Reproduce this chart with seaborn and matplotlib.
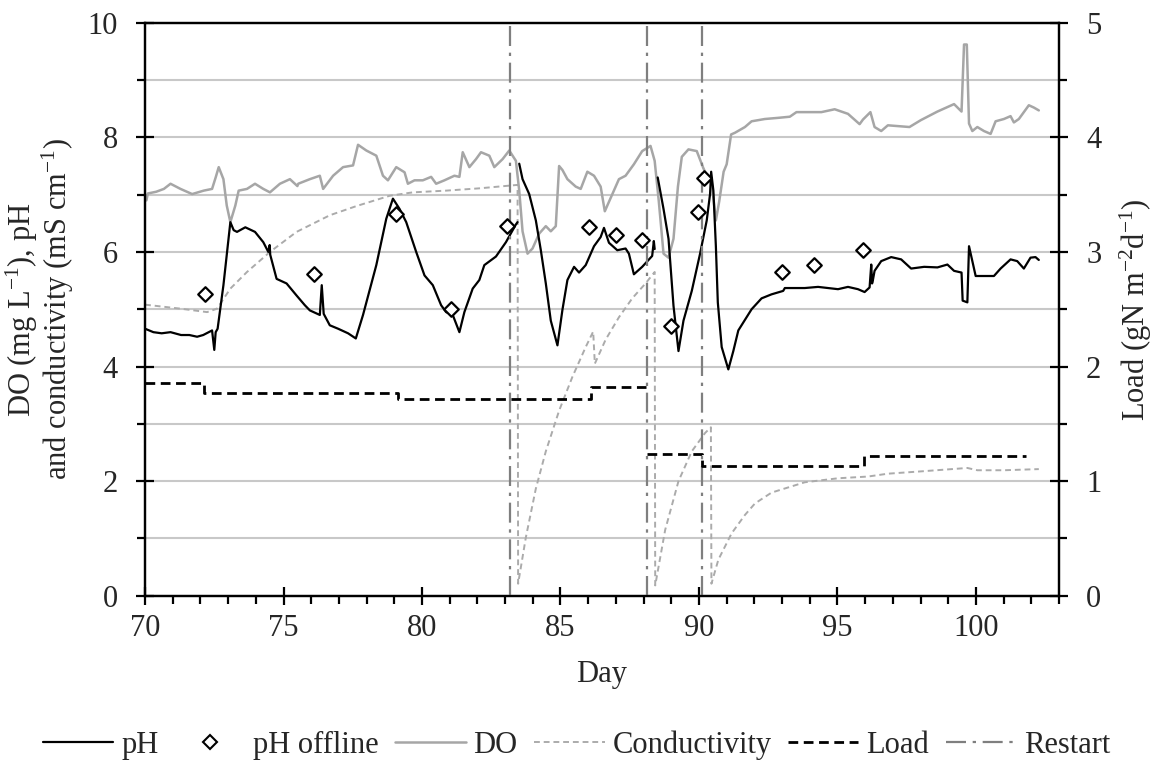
import numpy as np
import pandas as pd
import matplotlib
matplotlib.use("Agg")
import matplotlib.pyplot as plt
import seaborn as sns
from matplotlib.ticker import MultipleLocator
from matplotlib.lines import Line2D

# ---------------- data ----------------
ph_seg1_day = [70.0, 70.3, 70.6, 70.92, 71.3, 71.6, 71.88, 72.1, 72.42, 72.5, 72.55, 72.62, 72.83, 73.08,
               73.2, 73.32, 73.62, 73.97, 74.27, 74.45, 74.5, 74.52, 74.75, 75.11, 75.47, 75.77, 75.95,
               76.31, 76.38, 76.45, 76.67, 76.97, 77.33, 77.61, 77.87, 78.35, 78.71, 78.95, 79.19, 79.43,
               79.79, 80.09, 80.39, 80.69, 80.87, 81.11, 81.35, 81.53, 81.83, 82.07, 82.25, 82.67, 83.03,
               83.39, 83.45]
ph_seg1_val = [4.66, 4.60, 4.58, 4.60, 4.55, 4.55, 4.52, 4.55, 4.63, 4.29, 4.60, 4.66, 5.42, 6.52,
               6.38, 6.35, 6.43, 6.35, 6.17, 6.00, 6.12, 5.95, 5.53, 5.45, 5.24, 5.07, 4.98,
               4.90, 5.42, 4.92, 4.72, 4.66, 4.58, 4.49, 4.90, 5.77, 6.58, 6.93, 6.75, 6.52,
               6.00, 5.59, 5.42, 5.07, 4.95, 4.90, 4.60, 4.95, 5.36, 5.51, 5.77, 5.92, 6.17,
               6.48, 6.52]
ph_seg2_day = [83.51, 83.63, 83.87, 84.11, 84.29, 84.47, 84.65, 84.89, 85.07, 85.25, 85.49, 85.67, 85.91,
               86.21, 86.45, 86.57, 86.75, 87.05, 87.35, 87.47, 87.65, 87.95, 88.31, 88.37, 88.40]
ph_seg2_val = [7.54, 7.27, 7.01, 6.55, 6.03, 5.45, 4.80, 4.37, 4.99, 5.51, 5.74, 5.64, 5.77,
               6.10, 6.26, 6.42, 6.16, 6.03, 6.06, 5.97, 5.61, 5.74, 5.93, 6.19, 6.05]
ph_seg3_day = [88.51, 88.72, 88.90, 89.08, 89.26, 89.44, 89.74, 90.04, 90.28, 90.40, 90.44, 90.52, 90.61,
               90.68, 90.82, 91.06, 91.24, 91.42, 91.90, 92.26, 92.62, 93.04, 93.10, 93.82, 94.30, 95.02,
               95.38, 95.74, 95.98, 96.16, 96.22, 96.25, 96.28, 96.34, 96.58, 96.94, 97.30, 97.66, 98.13,
               98.61, 98.97, 99.21, 99.48, 99.52, 99.69, 99.75, 99.87, 99.99, 100.29, 100.65, 100.89,
               101.25, 101.49, 101.73, 101.97, 102.15, 102.27]
ph_seg3_val = [7.30, 6.75, 6.23, 5.06, 4.27, 4.80, 5.32, 5.97, 6.55, 7.01, 7.40, 7.07, 6.10,
               5.12, 4.34, 3.95, 4.27, 4.63, 5.00, 5.19, 5.26, 5.32, 5.37, 5.37, 5.39, 5.35,
               5.39, 5.35, 5.30, 5.38, 5.78, 5.45, 5.51, 5.67, 5.84, 5.91, 5.87, 5.71, 5.74,
               5.73, 5.78, 5.67, 5.64, 5.15, 5.12, 6.10, 5.84, 5.58, 5.58, 5.58, 5.71,
               5.87, 5.84, 5.71, 5.90, 5.91, 5.86]

ph_offline_day = [72.15, 76.09, 79.07, 81.03, 83.06, 86.03, 86.99, 87.95, 89.00, 89.98, 90.17, 92.98, 94.15, 95.92]
ph_offline_val = [5.27, 5.62, 6.67, 5.01, 6.45, 6.44, 6.29, 6.21, 4.70, 6.69, 7.29, 5.65, 5.78, 6.03]

do_day = [70.0, 70.05, 70.1, 70.4, 70.68, 70.92, 71.28, 71.7, 72.12, 72.42, 72.55, 72.66, 72.83, 72.95,
          73.08, 73.26, 73.38, 73.68, 73.97, 74.27, 74.51, 74.87, 75.23, 75.5, 75.53, 75.95, 76.31, 76.43,
          76.79, 77.15, 77.51, 77.69, 77.99, 78.35, 78.59, 78.77, 79.07, 79.37, 79.49, 79.73, 80.03, 80.33,
          80.51, 80.81, 81.17, 81.35, 81.47, 81.71, 81.95, 82.13, 82.43, 82.61, 82.91, 83.15, 83.39, 83.51,
          83.63, 83.81, 83.99, 84.23, 84.47, 84.65, 84.83, 84.95, 85.07, 85.25, 85.55, 85.73, 85.97, 86.21,
          86.45, 86.6, 86.81, 87.11, 87.35, 87.65, 87.95, 88.25, 88.4, 88.55, 88.72, 88.9, 89.08, 89.24,
          89.38, 89.62, 89.92, 90.16, 90.34, 90.46, 90.61, 90.73, 90.89, 91.0, 91.16, 91.3, 91.66, 91.9,
          92.38, 92.86, 93.28, 93.52, 94.42, 94.9, 95.38, 95.8, 95.92, 96.19, 96.34, 96.58, 96.82, 97.6,
          98.01, 98.61, 99.21, 99.48, 99.57, 99.67, 99.75, 99.87, 100.05, 100.29, 100.53, 100.71, 101.01,
          101.25, 101.37, 101.55, 101.91, 102.09, 102.27]
do_val = [7.00, 6.90, 7.02, 7.05, 7.10, 7.19, 7.10, 7.01, 7.07, 7.10, 7.30, 7.48, 7.27, 6.81,
          6.52, 6.81, 7.07, 7.10, 7.19, 7.10, 7.04, 7.19, 7.27, 7.15, 7.19, 7.27, 7.33, 7.10,
          7.33, 7.48, 7.51, 7.87, 7.77, 7.68, 7.33, 7.25, 7.48, 7.39, 7.19, 7.25, 7.25, 7.31,
          7.19, 7.25, 7.33, 7.31, 7.74, 7.48, 7.62, 7.74, 7.68, 7.48, 7.62, 7.77, 7.59, 7.07,
          6.36, 5.97, 6.06, 6.32, 6.45, 6.36, 6.45, 7.50, 7.43, 7.27, 7.14, 7.10, 7.40, 7.33,
          7.14, 6.71, 6.94, 7.27, 7.33, 7.53, 7.76, 7.85, 7.59, 6.88, 5.97, 5.90, 6.23, 7.14,
          7.66, 7.79, 7.76, 7.46, 7.27, 7.20, 6.55, 6.88, 7.40, 7.53, 8.05, 8.08, 8.18, 8.28,
          8.32, 8.34, 8.36, 8.44, 8.44, 8.49, 8.41, 8.23, 8.31, 8.44, 8.18, 8.11, 8.21, 8.18,
          8.30, 8.45, 8.58, 8.45, 9.62, 9.62, 8.24, 8.11, 8.18, 8.11, 8.06, 8.28, 8.32,
          8.37, 8.26, 8.32, 8.56, 8.52, 8.47]

cond_day = [70.0, 71.28, 72.24, 72.6, 73.08, 73.68, 74.51, 75.47, 76.67, 77.63, 78.83, 79.67, 80.87, 82.07,
            83.45, 83.47, 83.75, 84.11, 84.47, 84.95, 85.43, 85.91, 86.18, 86.24, 86.63, 87.11, 87.59,
            88.07, 88.40, 88.42, 88.78, 89.26, 89.74, 90.22, 90.43, 90.45, 90.70, 91.18, 91.66, 92.02,
            92.62, 93.82, 95.02, 96.10, 96.82, 98.01, 99.69, 100.05, 101.01, 102.27]
cond_val = [5.08, 5.01, 4.95, 5.01, 5.36, 5.65, 6.00, 6.35, 6.64, 6.80, 6.98, 7.04, 7.07, 7.11,
            7.17, 0.21, 1.02, 1.87, 2.52, 3.23, 3.82, 4.34, 4.61, 4.05, 4.47, 4.86, 5.19,
            5.45, 5.65, 0.18, 1.15, 2.00, 2.52, 2.84, 2.94, 0.21, 0.63, 1.09, 1.41, 1.61,
            1.80, 1.98, 2.05, 2.08, 2.13, 2.17, 2.23, 2.19, 2.19, 2.21]

load_seg1_day = [70.0, 72.12, 72.12, 79.13, 79.13, 86.09, 86.09, 88.07]
load_seg1_val = [1.86, 1.86, 1.77, 1.77, 1.72, 1.72, 1.82, 1.82]
load_seg2_day = [88.12, 90.10, 90.10, 95.95, 95.95, 101.80]
load_seg2_val = [1.24, 1.24, 1.13, 1.13, 1.22, 1.22]

restart_days = [83.17, 88.12, 90.10]

x_ticks = [70, 75, 80, 85, 90, 95, 100]
left_ticks = [0, 2, 4, 6, 8, 10]
right_ticks = [0, 1, 2, 3, 4, 5]

# ---------------- tables ----------------
ph_df = pd.DataFrame({
    "day": ph_seg1_day + ph_seg2_day + ph_seg3_day,
    "val": ph_seg1_val + ph_seg2_val + ph_seg3_val,
    "seg": [1] * len(ph_seg1_day) + [2] * len(ph_seg2_day) + [3] * len(ph_seg3_day),
})
do_df = pd.DataFrame({"day": do_day, "val": do_val})
cond_df = pd.DataFrame({"day": cond_day, "val": cond_val})
load_df = pd.DataFrame({
    "day": load_seg1_day + load_seg2_day,
    "val": load_seg1_val + load_seg2_val,
    "seg": [1] * len(load_seg1_day) + [2] * len(load_seg2_day),
})
off_df = pd.DataFrame({"day": ph_offline_day, "val": ph_offline_val})

# ---------------- style ----------------
sns.set_theme(style="ticks")
plt.rcParams["font.family"] = ["Liberation Serif", "DejaVu Serif"]
plt.rcParams["mathtext.fontset"] = "custom"
plt.rcParams["mathtext.rm"] = "Liberation Serif"
plt.rcParams["mathtext.it"] = "Liberation Serif:italic"
plt.rcParams["mathtext.default"] = "regular"

FS = 22
DO_COL = "#A6A6A6"
COND_COL = "#ABABAB"
RESTART_COL = "#7F7F7F"
GRID_COL = "#C8C8C8"

fig = plt.figure(figsize=(11.53, 7.76), dpi=100)
ax = fig.add_axes([0.1258, 0.2323, 0.7927, 0.7384])
ax2 = ax.twinx()

# grid
ax.set_axisbelow(True)
ax.yaxis.grid(True, which="both", color=GRID_COL, lw=1.5)
ax.xaxis.grid(False)

# series
sns.lineplot(data=cond_df, x="day", y="val", ax=ax, color=COND_COL, lw=1.4, ls=(0, (3, 2)),
             estimator=None, sort=False, legend=False)
sns.lineplot(data=do_df, x="day", y="val", ax=ax, color=DO_COL, lw=1.8,
             estimator=None, sort=False, legend=False)
sns.lineplot(data=ph_df, x="day", y="val", units="seg", ax=ax, color="black", lw=1.6,
             estimator=None, sort=False, legend=False)
for d in restart_days:
    ax.axvline(d, color=RESTART_COL, lw=1.6, ls=(0, (9, 3, 1.5, 3)), zorder=3)
sns.scatterplot(data=off_df, x="day", y="val", ax=ax, marker="D", s=55, facecolor="white",
                edgecolor="black", linewidth=1.6, zorder=5, legend=False)
sns.lineplot(data=load_df, x="day", y="val", units="seg", ax=ax2, color="black", lw=2.0,
             ls=(0, (3.5, 2)), estimator=None, sort=False, legend=False)

# axes
ax.set_xlim(70, 103)
ax.set_ylim(0, 10)
ax2.set_ylim(0, 5)
ax.set_xticks(x_ticks)
ax.set_xticklabels([str(t) for t in x_ticks])
ax.xaxis.set_minor_locator(MultipleLocator(1))
ax.set_yticks(left_ticks)
ax.set_yticklabels([str(t) for t in left_ticks])
ax.yaxis.set_minor_locator(MultipleLocator(1))
ax2.set_yticks(right_ticks)
ax2.set_yticklabels([str(t) for t in right_ticks])
ax2.yaxis.set_minor_locator(MultipleLocator(0.5))

for a in (ax, ax2):
    for sp in a.spines.values():
        sp.set_linewidth(1.6)
        sp.set_color("black")
        sp.set_visible(True)
    a.tick_params(which="major", direction="inout", length=13, width=1.6, labelsize=FS, color="black")
    a.tick_params(which="minor", direction="out", length=6, width=1.6, color="black")
ax.tick_params(axis="y", which="major", pad=13)
ax2.tick_params(axis="y", which="major", pad=13)
ax.tick_params(axis="x", which="major", pad=7)

ax.set_xlabel("Day", fontsize=FS, labelpad=12)
ax.set_ylabel("DO (mg L$^{-1}$), pH\nand conductivity (mS cm$^{-1}$)", fontsize=FS, labelpad=8,
              linespacing=1.0)
ax2.set_ylabel("Load (gN m$^{-2}$d$^{-1}$)", fontsize=FS, labelpad=12)

# legend
handles = [
    Line2D([], [], color="black", lw=1.6),
    Line2D([], [], ls="none", marker="D", markersize=7, markerfacecolor="white",
           markeredgecolor="black", markeredgewidth=1.5),
    Line2D([], [], color=DO_COL, lw=1.8),
    Line2D([], [], color=COND_COL, lw=1.4, ls=(0, (3, 2))),
    Line2D([], [], color="black", lw=2.0, ls=(0, (3.5, 2))),
    Line2D([], [], color=RESTART_COL, lw=1.6, ls=(0, (9, 3, 1.5, 3))),
]
labels = ["pH", "pH offline", "DO", "Conductivity", "Load", "Restart"]
fig.legend(handles, labels, loc="center", bbox_to_anchor=(0.5, 0.04), ncol=6, frameon=False,
           fontsize=FS, handlelength=2.3, handletextpad=0.25, columnspacing=0.55)

fig.savefig("out.png", dpi=100)
